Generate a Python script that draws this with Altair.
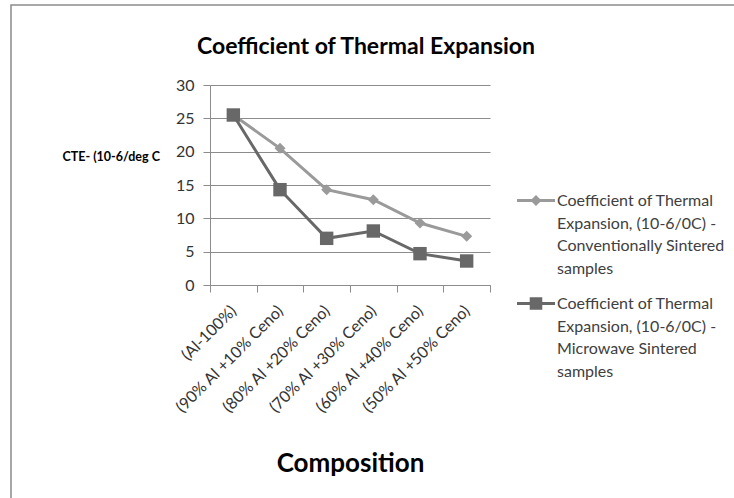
import json
import altair as alt
import pandas as pd

compositions = ["(Al-100%)", "(90% Al +10% Ceno)", "(80% Al +20% Ceno)",
                "(70% Al +30% Ceno)", "(60% Al +40% Ceno)", "(50% Al +50% Ceno)"]
conventional = [25.5, 20.5, 14.3, 12.8, 9.3, 7.3]
microwave = [25.5, 14.3, 7.0, 8.1, 4.7, 3.6]
series_names = ["Conventionally Sintered", "Microwave Sintered"]
legend_lines = [
    ["Coefficient of Thermal", "Expansion,  (10-6/0C) -", "Conventionally Sintered", "samples"],
    ["Coefficient of Thermal", "Expansion,  (10-6/0C) -", "Microwave Sintered", "samples"],
]
y_ticks = [0, 5, 10, 15, 20, 25, 30]
series_colors = ["#9a9a9a", "#686868"]

rows = []
for name, vals in zip(series_names, [conventional, microwave]):
    for c, v in zip(compositions, vals):
        rows.append({"composition": c, "series": name, "value": v})
df = pd.DataFrame(rows)

FONT = "Lato"
GRID = "#8c8c8c"

x_enc = alt.X(
    "composition:N", sort=compositions, bandPosition=0.5,
    scale=alt.Scale(type="band", domain=compositions, paddingInner=0, paddingOuter=0),
    axis=alt.Axis(
        title="Composition", labelAngle=-45, labelAlign="right", labelBaseline="middle",
        tickBand="extent", tickSize=7, labelPadding=16, labelLimit=400, labelOverlap=False,
        domainColor=GRID, tickColor=GRID, grid=False,
        labelFont=FONT, labelFontSize=16, labelColor="#333333",
        titleFont=FONT, titleFontSize=26, titleFontWeight="bold", titleColor="#000000",
        titleX=140, titleY=178, titleAlign="center", titleBaseline="middle",
    ),
)
y_enc = alt.Y(
    "value:Q",
    scale=alt.Scale(domain=[0, 30], nice=False),
    axis=alt.Axis(
        values=y_ticks, title="CTE- (10-6/deg C", titleAngle=0, titleX=-148, titleY=71,
        titleAlign="left", titleBaseline="middle", titleFont=FONT, titleFontSize=12.5,
        titleFontWeight="bold", titleColor="#000000",
        grid=True, gridColor=GRID, domainColor=GRID, tickColor=GRID, tickSize=7,
        labelPadding=9, labelFont=FONT, labelFontSize=16, labelColor="#333333",
    ),
)

# legend symbol paths: connecting line + marker (raised to sit on the first label line)
diamond_path = "M-1,-0.37L1,-0.37L1,-0.21L-1,-0.21Z M0,-0.58L0.29,-0.29L0,0L-0.29,-0.29Z"
square_path = "M-1,-0.37L1,-0.37L1,-0.21L-1,-0.21Z M-0.33,-0.62L0.33,-0.62L0.33,0.04L-0.33,0.04Z"

label_map = " : ".join(
    f"datum.label == {json.dumps(n)} ? {json.dumps(l)}" for n, l in zip(series_names, legend_lines)
) + " : datum.label"

legend = alt.Legend(
    orient="none", legendX=307, legendY=102, title=None, padding=0,
    labelExpr=label_map, labelFont=FONT, labelFontSize=16, labelColor="#404040",
    labelBaseline="alphabetic", labelLimit=400, labelOffset=2,
    symbolSize=1444, symbolStrokeWidth=0, rowPadding=13,
)

frame = alt.Chart(alt.Data(values=[{"f": 1}])).mark_rect(
    filled=False, stroke="#8c8c8c", strokeWidth=1.5
).encode(x=alt.value(-199), x2=alt.value(540), y=alt.value(-80), y2=alt.value(430))

layers = [frame]
for name, col, shape, size in zip(series_names, series_colors, ["diamond", "square"], [121, 180]):
    base = alt.Chart(df).transform_filter(alt.datum.series == name)
    layers.append(base.mark_line(color=col, strokeWidth=3).encode(x=x_enc, y=y_enc))
    layers.append(base.mark_point(shape=shape, filled=True, size=size, color=col, opacity=1)
                  .encode(x=x_enc, y=y_enc))

legend_layer = alt.Chart(df).transform_filter("false").mark_point(filled=True, opacity=1).encode(
    x=x_enc, y=y_enc,
    color=alt.Color("series:N", scale=alt.Scale(domain=series_names, range=series_colors), legend=legend),
    shape=alt.Shape("series:N", scale=alt.Scale(domain=series_names, range=[diamond_path, square_path]),
                    legend=legend),
)
layers.append(legend_layer)

chart = alt.layer(*layers).properties(
    width=280, height=200,
    title=alt.TitleParams(
        text="Coefficient of Thermal Expansion", font=FONT, fontSize=23, fontWeight="bold",
        color="#000000", anchor="middle", frame="group", dx=16, offset=0, baseline="bottom", dy=78,
    ),
    autosize=alt.AutoSizeParams(type="none"),
    padding={"left": 210, "top": 85, "right": 244, "bottom": 213},
    background="white",
).configure(style={"guide-label": {"lineHeight": 22.5}}).configure_view(stroke=None)

chart.save("out.html", embed_options={"renderer": "svg", "actions": False})
